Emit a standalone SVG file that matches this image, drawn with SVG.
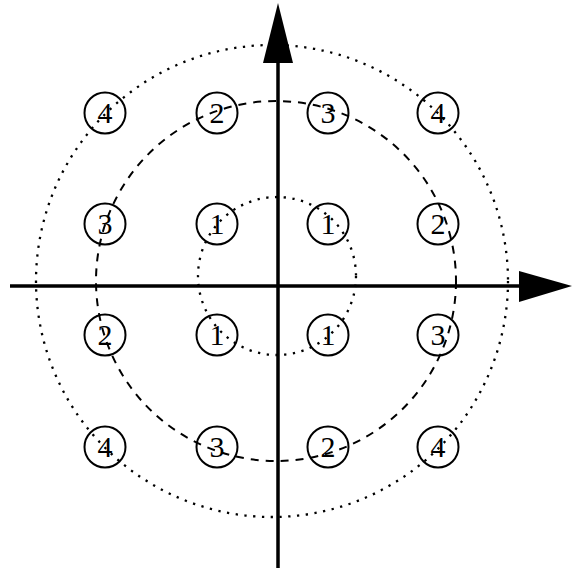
<svg xmlns="http://www.w3.org/2000/svg" width="573" height="571" viewBox="0 0 573 571">
  <style>
    .dot { fill: none; stroke: #000; stroke-width: 2.3; stroke-dasharray: 2.3 6.5; }
    .dash { fill: none; stroke: #000; stroke-width: 2; stroke-dasharray: 8 7; }
    .axis { stroke: #000; stroke-width: 3.5; fill: none; }
    .head { fill: #000; }
    .node circle { fill: none; stroke: #000; stroke-width: 2; }
    .node text { font-family: "Liberation Serif", "Times New Roman", serif; font-size: 30px; text-anchor: middle; fill: #000; }
  </style>
  <rect width="573" height="571" fill="#fff"/>
  <g id="rings">
    <circle class="dot" cx="277" cy="276" r="79"/>
    <circle class="dash" cx="276" cy="281" r="180"/>
    <circle class="dot" cx="272" cy="281" r="236"/>
  </g>
  <g id="connectors">
    <line class="axis" x1="10" y1="286" x2="522" y2="286"/>
    <polygon class="head" points="519,271 572,286 519,302"/>
    <line class="axis" x1="278" y1="568" x2="278" y2="60"/>
    <polygon class="head" points="263,63 278,3 293,63"/>
  </g>
  <g id="n11" class="node"><circle cx="105" cy="113" r="20.5"/><text x="105" y="123">4</text></g>
  <g id="n12" class="node"><circle cx="217" cy="113" r="20.5"/><text x="217" y="123">2</text></g>
  <g id="n13" class="node"><circle cx="328" cy="113" r="20.5"/><text x="328" y="123">3</text></g>
  <g id="n14" class="node"><circle cx="438" cy="113" r="20.5"/><text x="438" y="123">4</text></g>
  <g id="n21" class="node"><circle cx="105" cy="224" r="20.5"/><text x="105" y="234">3</text></g>
  <g id="n22" class="node"><circle cx="217" cy="224" r="20.5"/><text x="217" y="234">1</text></g>
  <g id="n23" class="node"><circle cx="328" cy="224" r="20.5"/><text x="328" y="234">1</text></g>
  <g id="n24" class="node"><circle cx="438" cy="224" r="20.5"/><text x="438" y="234">2</text></g>
  <g id="n31" class="node"><circle cx="105" cy="335" r="20.5"/><text x="105" y="345">2</text></g>
  <g id="n32" class="node"><circle cx="217" cy="335" r="20.5"/><text x="217" y="345">1</text></g>
  <g id="n33" class="node"><circle cx="328" cy="335" r="20.5"/><text x="328" y="345">1</text></g>
  <g id="n34" class="node"><circle cx="438" cy="335" r="20.5"/><text x="438" y="345">3</text></g>
  <g id="n41" class="node"><circle cx="105" cy="447" r="20.5"/><text x="105" y="457">4</text></g>
  <g id="n42" class="node"><circle cx="217" cy="447" r="20.5"/><text x="217" y="457">3</text></g>
  <g id="n43" class="node"><circle cx="328" cy="447" r="20.5"/><text x="328" y="457">2</text></g>
  <g id="n44" class="node"><circle cx="438" cy="447" r="20.5"/><text x="438" y="457">4</text></g>
</svg>
